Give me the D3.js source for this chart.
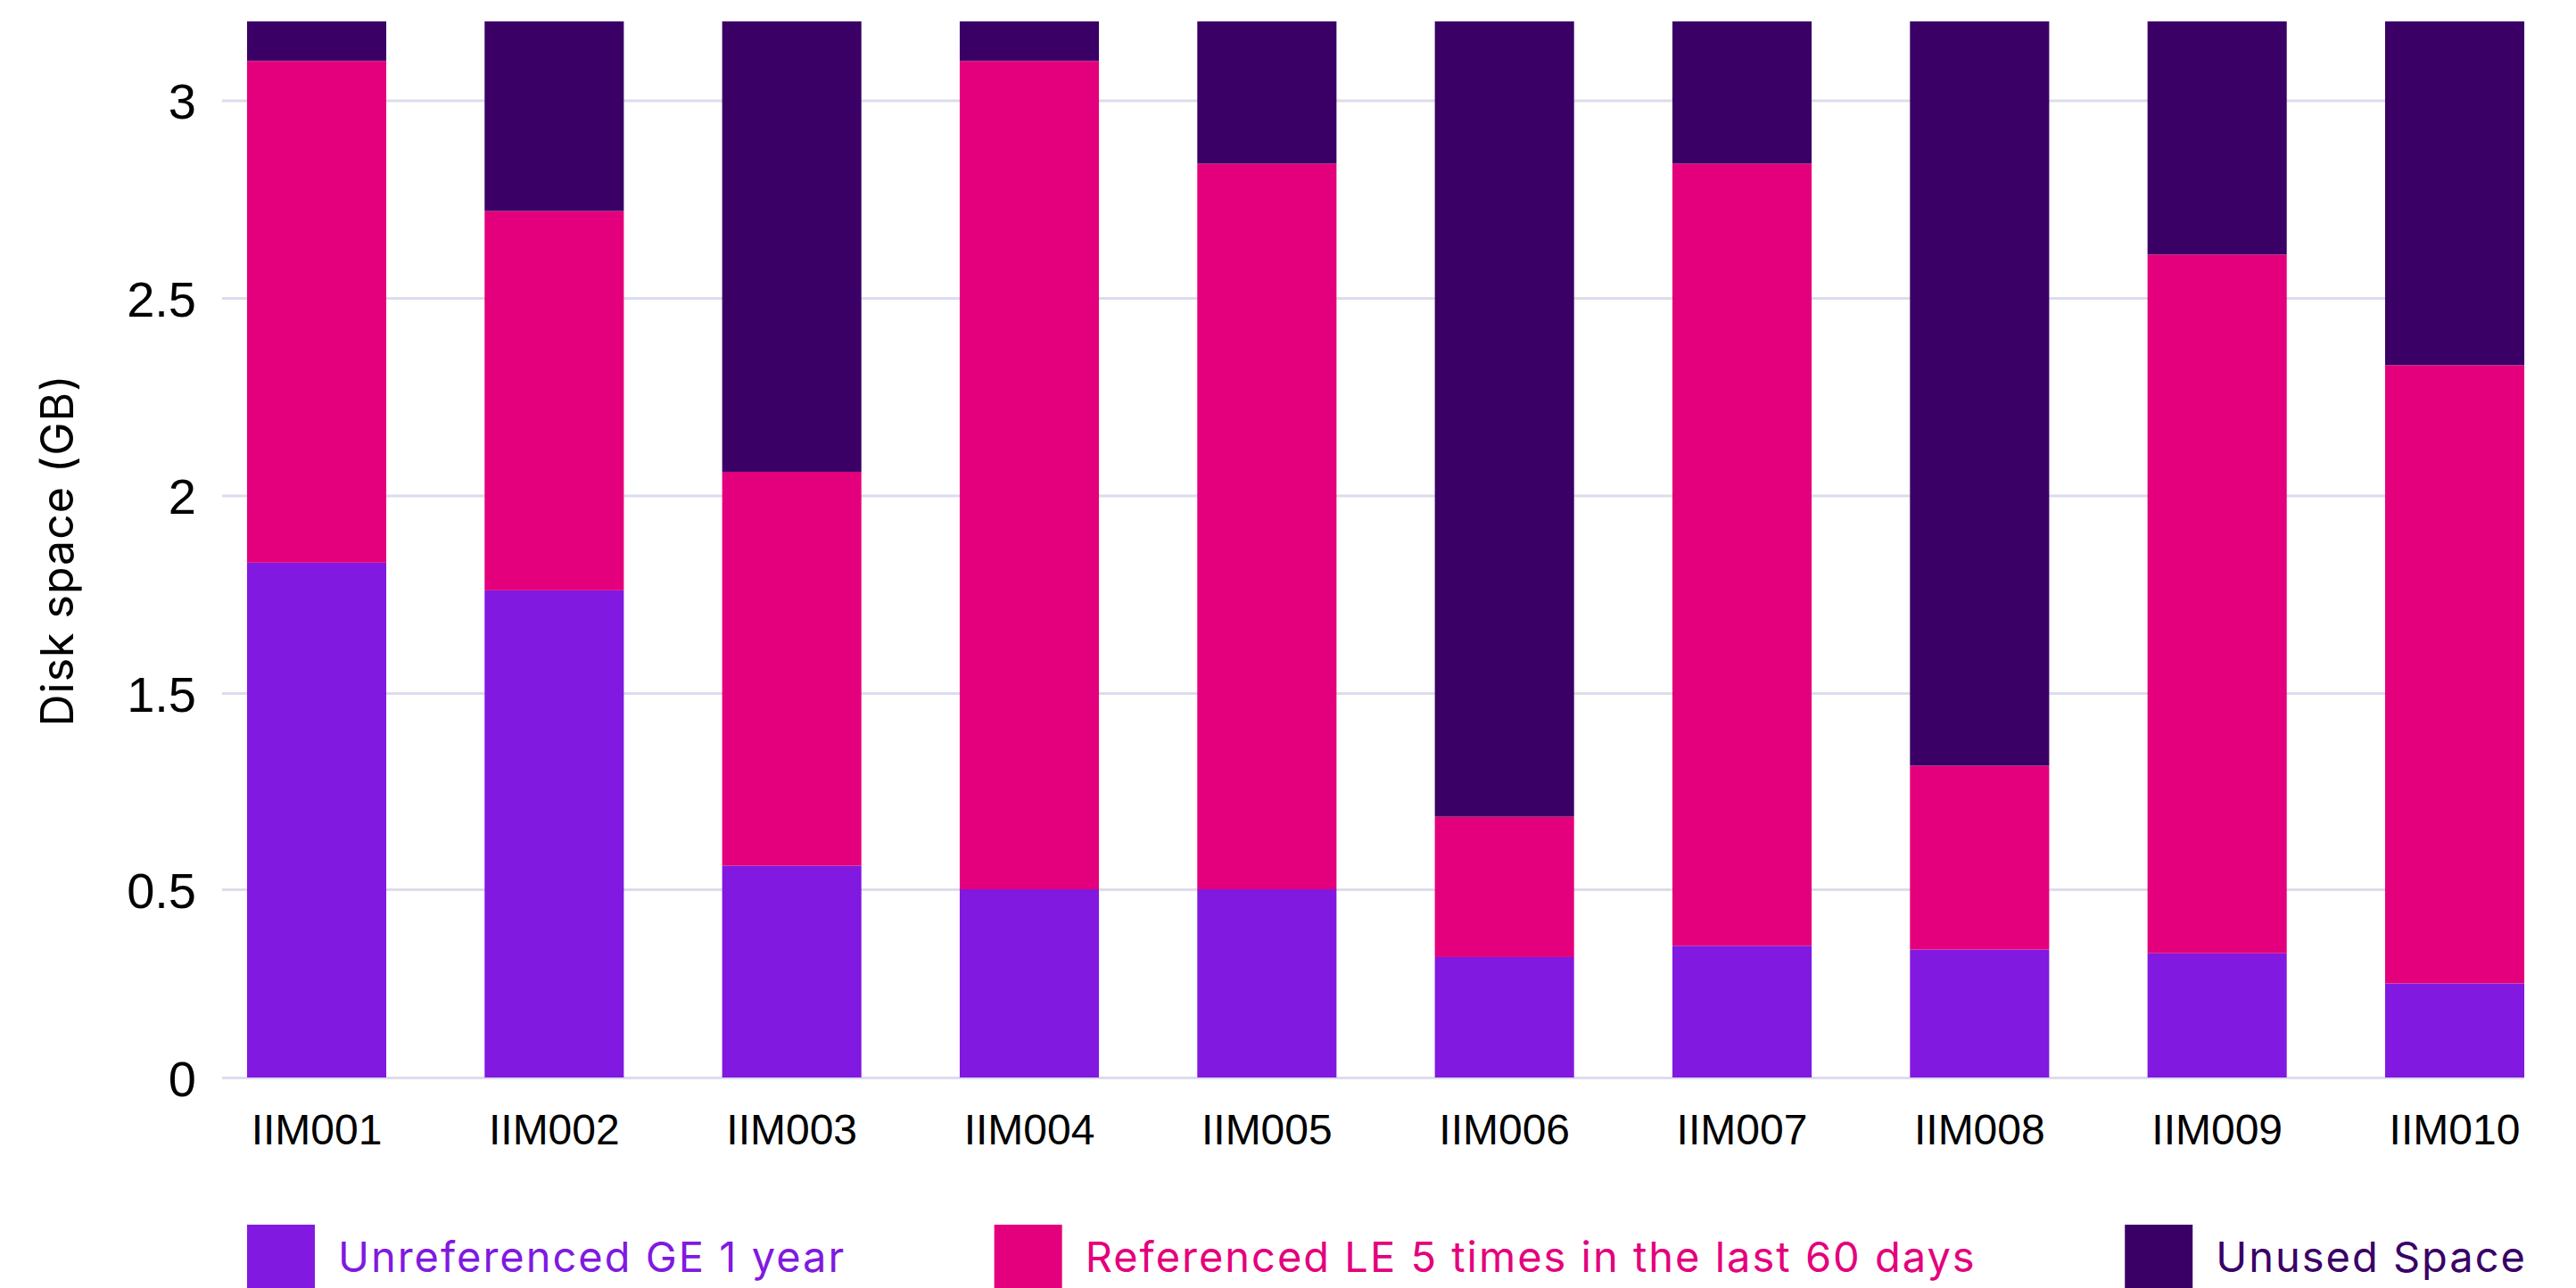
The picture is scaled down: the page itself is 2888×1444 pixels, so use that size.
<!DOCTYPE html>
<html>
<head>
<meta charset="utf-8">
<script src="https://cdn.jsdelivr.net/npm/d3@7"></script>
<style>
  body { margin: 0; background: #fff; }
  .tick line { stroke: #dcdcec; stroke-width: 3; }
</style>
</head>
<body>
<svg width="2888" height="1444"></svg>
<script>
// data
var machines = ["IIM001", "IIM002", "IIM003", "IIM004", "IIM005", "IIM006", "IIM007", "IIM008", "IIM009", "IIM010"];
var unreferenced = [1.83, 1.76, 0.62, 0.50, 0.50, 0.32, 0.35, 0.34, 0.33, 0.25];
var referenced = [1.27, 0.96, 1.44, 2.60, 2.34, 0.55, 2.49, 0.79, 2.28, 2.08];
var unused = [0.10, 0.48, 1.14, 0.10, 0.36, 2.33, 0.36, 2.07, 0.59, 0.87];
var seriesNames = ["Unreferenced GE 1 year", "Referenced LE 5 times in the last 60 days", "Unused Space"];
var seriesColors = ["#8119e0", "#e4007c", "#3a0066"];
// the axis of the original is not evenly spaced: 1 is missing and 0.5..1.5 takes one step
var yTicks = [0, 0.5, 1.5, 2, 2.5, 3];
var yBreaks = [0, 0.5, 1.5, 3.2];

var svg = d3.select("svg"),
    margin = { top: 24, left: 249, bottom: 236 },
    height = +svg.attr("height") - margin.bottom;

var x = d3.scaleBand()
    .domain(machines)
    .range([margin.left, 2858])
    .paddingInner(0.414)
    .paddingOuter(0.105);

var y = d3.scaleLinear()
    .domain(yBreaks)
    .range([height, 997, 777, margin.top]);

var plotRight = x.range()[1] - x.step() * x.paddingOuter();

// rows for the stack
var rows = machines.map(function (m, i) {
    var r = { machine: m };
    r[seriesNames[0]] = unreferenced[i];
    r[seriesNames[1]] = referenced[i];
    r[seriesNames[2]] = unused[i];
    return r;
});
var stacked = d3.stack().keys(seriesNames)(rows);

// grid + y labels
var yAxis = svg.append("g")
    .attr("transform", "translate(" + margin.left + ",0)")
    .call(d3.axisLeft(y).tickValues(yTicks).tickSize(-(plotRight - margin.left)).tickPadding(29)
        .tickFormat(function (d) { return d; }));
yAxis.select(".domain").remove();
yAxis.selectAll("text")
    .attr("font-family", "'Liberation Sans', Arial, sans-serif")
    .attr("font-size", 56)
    .attr("fill", "#000")
    .attr("dy", "0.36em");

// bars
svg.append("g").selectAll("g")
    .data(stacked)
    .enter().append("g")
    .attr("fill", function (d, i) { return seriesColors[i]; })
    .selectAll("rect")
    .data(function (d) { return d; })
    .enter().append("rect")
    .attr("x", function (d) { return x(d.data.machine); })
    .attr("y", function (d) { return y(d[1]); })
    .attr("width", x.bandwidth())
    .attr("height", function (d) { return y(d[0]) - y(d[1]); });

// x labels
var xAxis = svg.append("g")
    .attr("transform", "translate(0," + height + ")")
    .call(d3.axisBottom(x).tickSize(0));
xAxis.select(".domain").remove();
xAxis.selectAll("text")
    .attr("y", 75)
    .attr("dy", 0)
    .attr("font-family", "'Liberation Sans', Arial, sans-serif")
    .attr("font-size", 48)
    .attr("fill", "#000");

// y title
svg.append("text")
    .attr("transform", "translate(82," + 617 + ") rotate(-90)")
    .attr("text-anchor", "middle")
    .attr("font-family", "Inter, 'Noto Sans', sans-serif")
    .attr("font-size", 50)
    .attr("letter-spacing", 1)
    .attr("fill", "#000")
    .text("Disk space (GB)");

// legend, spread between first bar and right edge
var legendLeft = x(machines[0]), legendRight = 2833, swatch = 76, textGap = 26;
var legend = svg.append("g");
var items = seriesNames.map(function (name, i) {
    var t = legend.append("text")
        .attr("font-family", "Inter, 'Noto Sans', sans-serif")
        .attr("font-size", 47)
        .attr("letter-spacing", 2)
        .attr("fill", seriesColors[i])
        .attr("y", 1426)
        .text(name);
    return { t: t, w: t.node().getComputedTextLength(), color: seriesColors[i] };
});
var used = d3.sum(items, function (d) { return d.w + swatch + textGap; });
var gap = (legendRight - legendLeft - used) / (items.length - 1);
var cx = legendLeft;
items.forEach(function (d) {
    legend.append("rect")
        .attr("x", cx).attr("y", 1373)
        .attr("width", swatch).attr("height", swatch)
        .attr("fill", d.color);
    d.t.attr("x", cx + swatch + textGap);
    cx += swatch + textGap + d.w + gap;
});
</script>
</body>
</html>
